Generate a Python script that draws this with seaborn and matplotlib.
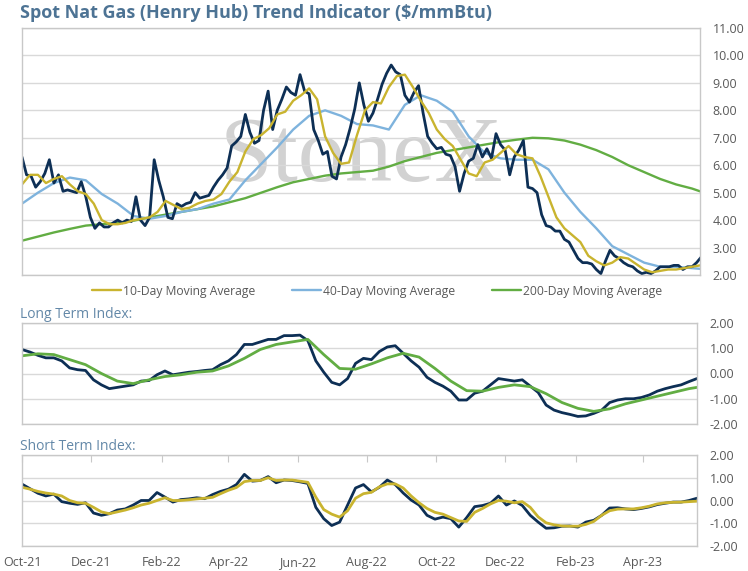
import pandas as pd
import matplotlib
matplotlib.use("Agg")
import matplotlib.pyplot as plt
import matplotlib.dates as mdates
from matplotlib.ticker import FormatStrFormatter
import seaborn as sns

# ---- data ----
price = [6.3, 5.65, 5.6, 5.2, 5.4, 5.7, 6.2, 5.35, 5.65, 5.05, 5.1, 5.05, 5.0, 5.4, 4.85, 4.1,
         3.7, 3.9, 3.75, 3.75, 3.9, 4.0, 3.9, 4.0, 3.95, 4.85, 4.0, 3.8, 4.1, 6.2, 5.45, 4.85,
         4.1, 4.05, 4.6, 4.5, 4.6, 4.65, 5.0, 4.8, 4.85, 4.9, 5.2, 5.45, 5.65, 5.9, 6.7, 6.85,
         7.05, 7.85, 7.2, 6.8, 6.9, 8.0, 8.7, 7.3, 8.0, 8.4, 8.85, 8.65, 8.55, 9.3, 8.7, 8.6,
         7.3, 6.9, 6.4, 6.5, 5.6, 5.5, 6.3, 6.75, 7.35, 8.05, 9.0, 8.2, 7.6, 7.9, 8.4, 8.95,
         9.35, 9.65, 9.4, 9.3, 8.55, 8.3, 8.65, 8.9, 7.9, 7.05, 6.8, 6.6, 6.65, 6.4, 6.35, 5.95,
         5.05, 5.7, 6.15, 6.25, 6.75, 6.3, 6.6, 6.25, 7.15, 6.75, 6.55, 5.65, 6.3, 6.55, 6.9, 5.2,
         5.15, 5.0, 4.2, 3.8, 3.75, 3.6, 3.6, 3.3, 3.2, 2.9, 2.6, 2.45, 2.45, 2.4, 2.2, 2.05,
         2.5, 2.9, 2.7, 2.6, 2.45, 2.35, 2.3, 2.15, 2.05, 2.1, 2.05, 2.15, 2.3, 2.3, 2.3, 2.35,
         2.35, 2.2, 2.3, 2.3, 2.45, 2.65]

ma10 = [5.3, 5.65, 5.65, 5.35, 5.5, 5.6, 5.3, 5.05, 4.95, 4.6, 4.0, 3.85, 3.85, 3.9, 4.0, 4.05,
        4.1, 4.3, 4.7, 4.55, 4.4, 4.45, 4.6, 4.7, 4.75, 4.95, 5.4, 5.75, 6.5, 6.95, 7.1, 7.35,
        7.85, 7.95, 8.35, 8.55, 8.8, 8.4, 7.05, 6.45, 6.05, 6.1, 7.1, 8.0, 8.3, 8.25, 8.85, 9.25,
        9.3, 8.85, 8.35, 7.9, 7.3, 6.95, 6.7, 6.2, 5.7, 5.6, 6.1, 6.2, 6.45, 6.7, 6.4, 6.3,
        6.25, 5.6, 4.85, 4.1, 3.7, 3.45, 3.2, 2.7, 2.5, 2.35, 2.45, 2.65, 2.6, 2.4, 2.2, 2.1,
        2.15, 2.2, 2.2, 2.25, 2.3, 2.35]

ma40 = [4.6, 5.0, 5.35, 5.55, 5.45, 4.95, 4.6, 4.15, 4.05, 4.15, 4.3, 4.4, 4.6, 4.75, 5.45,
        6.05, 6.65, 7.3, 7.8, 8.0, 7.8, 7.5, 7.45, 7.3, 8.2, 8.55, 8.35, 7.95, 7.05, 6.45, 6.25,
        6.2, 6.2, 5.85, 5.0, 4.3, 3.7, 3.05, 2.75, 2.45, 2.3, 2.3, 2.25, 2.2]

ma200 = [3.25, 3.4, 3.55, 3.68, 3.8, 3.85, 3.9, 3.98, 4.1, 4.2, 4.3, 4.4, 4.5, 4.65, 4.8,
         5.0, 5.2, 5.38, 5.5, 5.62, 5.7, 5.75, 5.8, 5.95, 6.15, 6.3, 6.45, 6.55, 6.65, 6.75,
         6.85, 6.93, 7.0, 6.98, 6.9, 6.75, 6.55, 6.3, 6.0, 5.75, 5.5, 5.3, 5.15, 4.95]

long_idx = [0.95, 0.85, 0.72, 0.62, 0.62, 0.5, 0.22, 0.15, 0.12, -0.25, -0.45, -0.6, -0.55,
            -0.5, -0.45, -0.3, -0.28, -0.05, 0.1, -0.05, 0.0, 0.05, 0.08, 0.12, 0.15, 0.35,
            0.5, 0.75, 1.15, 1.15, 1.25, 1.35, 1.35, 1.5, 1.5, 1.52, 1.3, 0.5, 0.05, -0.35,
            -0.45, -0.2, 0.4, 0.6, 0.55, 0.87, 1.05, 1.1, 0.8, 0.5, 0.25, -0.15, -0.35, -0.5,
            -0.7, -1.05, -1.05, -0.78, -0.7, -0.45, -0.2, -0.25, -0.3, -0.25, -0.5, -0.75,
            -1.25, -1.45, -1.55, -1.62, -1.7, -1.68, -1.58, -1.45, -1.15, -1.05, -1.0, -1.0,
            -0.95, -0.85, -0.7, -0.6, -0.52, -0.45, -0.32, -0.2]

long_sig = [0.7, 0.78, 0.75, 0.55, 0.35, 0.0, -0.3, -0.4, -0.25, -0.12, -0.05, 0.05, 0.1, 0.3,
            0.6, 0.95, 1.15, 1.25, 1.35, 0.75, 0.2, 0.17, 0.38, 0.62, 0.8, 0.65, 0.2, -0.3,
            -0.68, -0.7, -0.55, -0.45, -0.52, -0.8, -1.15, -1.38, -1.5, -1.4, -1.2, -1.05,
            -0.9, -0.75, -0.6, -0.5]

short_idx = [0.72, 0.52, 0.32, 0.2, 0.28, -0.05, -0.12, -0.17, -0.1, -0.55, -0.65, -0.58,
             -0.42, -0.37, -0.2, 0.0, 0.0, 0.35, 0.15, -0.07, 0.04, 0.07, 0.12, 0.08, 0.26,
             0.4, 0.5, 0.7, 1.15, 0.85, 0.88, 1.05, 0.78, 0.9, 0.88, 0.82, 0.75, -0.3, -0.8,
             -1.1, -0.95, -0.2, 0.55, 0.7, 0.38, 0.58, 0.9, 0.7, 0.33, 0.02, -0.2, -0.65,
             -0.82, -0.73, -0.8, -1.17, -0.75, -0.27, -0.22, -0.12, 0.2, -0.2, -0.02, -0.22,
             -0.65, -0.95, -1.22, -1.2, -1.13, -1.12, -1.17, -0.95, -0.87, -0.65, -0.33, -0.32,
             -0.37, -0.4, -0.35, -0.28, -0.18, -0.12, -0.07, -0.07, 0.0, 0.1]

short_sig = [0.58, 0.5, 0.4, 0.33, 0.28, 0.2, 0.0, -0.1, -0.12, -0.3, -0.5, -0.58, -0.5,
             -0.42, -0.32, -0.2, -0.12, 0.0, 0.12, 0.0, 0.0, 0.03, 0.07, 0.1, 0.14, 0.3, 0.45,
             0.57, 0.83, 0.88, 0.88, 1.0, 0.88, 0.9, 0.9, 0.85, 0.8, 0.15, -0.4, -0.6, -0.73,
             -0.45, 0.1, 0.3, 0.36, 0.6, 0.73, 0.73, 0.55, 0.2, -0.1, -0.35, -0.52, -0.6, -0.75,
             -0.9, -0.92, -0.52, -0.35, -0.15, 0.0, -0.03, -0.1, -0.05, -0.3, -0.72, -0.98,
             -1.07, -1.12, -1.13, -1.13, -1.05, -0.92, -0.65, -0.45, -0.38, -0.37, -0.37, -0.32,
             -0.25, -0.15, -0.1, -0.08, -0.07, -0.05, -0.03]

start = "2021-10-01"
price_dates = pd.date_range(start, periods=len(price), freq="4D")
weekly_dates = pd.date_range(start, periods=len(ma10), freq="7D")
biweekly_dates = pd.date_range(start, periods=len(ma40), freq="14D")
x_end = pd.Timestamp("2023-05-19")

NAVY = "#0d2f55"
GOLD = "#c9b42f"
BLUE = "#7eb3dd"
GREEN = "#62ad43"
GRID = "#d9d9d9"
TXT = "#595959"
HEAD = "#4d7394"

sns.set_style("white")
plt.rcParams["font.family"] = ["Open Sans", "DejaVu Sans"]

fig = plt.figure(figsize=(7.48, 5.71), dpi=100)
ax1 = fig.add_axes([22 / 748, 1 - 275 / 571, 678 / 748, 247 / 571])
ax2 = fig.add_axes([22 / 748, 1 - 424 / 571, 675 / 748, 101 / 571])
ax3 = fig.add_axes([22 / 748, 1 - 546 / 571, 675 / 748, 91 / 571])

# top panel: price and moving averages
sns.lineplot(x=biweekly_dates, y=ma200, ax=ax1, color=GREEN, linewidth=1.7, label="200-Day Moving Average")
sns.lineplot(x=biweekly_dates, y=ma40, ax=ax1, color=BLUE, linewidth=1.7, label="40-Day Moving Average")
sns.lineplot(x=price_dates, y=price, ax=ax1, color=NAVY, linewidth=2.0)
sns.lineplot(x=weekly_dates, y=ma10, ax=ax1, color=GOLD, linewidth=1.7, label="10-Day Moving Average")
ax1.set_ylim(2, 11)
ax1.set_yticks(range(2, 12))
ax1.text(0.5, 0.47, "StoneX", transform=ax1.transAxes, ha="center", va="center",
         fontsize=68, family="Liberation Serif", color="#d2d2d2", zorder=0)

# middle panel: long term index
sns.lineplot(x=weekly_dates, y=long_idx, ax=ax2, color=NAVY, linewidth=2.0)
sns.lineplot(x=biweekly_dates, y=long_sig, ax=ax2, color=GREEN, linewidth=2.0)
ax2.set_ylim(-2, 2)

# bottom panel: short term index
sns.lineplot(x=weekly_dates, y=short_idx, ax=ax3, color=NAVY, linewidth=2.0)
sns.lineplot(x=weekly_dates, y=short_sig, ax=ax3, color=GOLD, linewidth=2.0)
ax3.set_ylim(-2, 2)

for ax in (ax1, ax2, ax3):
    ax.set_xlim(pd.Timestamp(start), x_end)
    ax.set_xlabel("")
    ax.set_ylabel("")
    ax.set_axisbelow(True)
    ax.grid(axis="y", color=GRID, linewidth=1)
    ax.grid(axis="x", visible=False)
    ax.yaxis.tick_right()
    ax.yaxis.set_major_formatter(FormatStrFormatter("%.2f"))
    ax.tick_params(axis="y", length=0, labelsize=9, labelcolor=TXT, pad=9)
    ax.xaxis.set_major_locator(mdates.MonthLocator(bymonth=[2, 4, 6, 8, 10, 12]))
    ax.xaxis.set_major_formatter(mdates.DateFormatter("%b-%y"))
    for sp in ax.spines.values():
        sp.set_color("#c8c8c8")
        sp.set_linewidth(1)
    if ax.get_legend() is not None:
        ax.get_legend().remove()

ax2.set_yticks([-2, -1, 0, 1, 2])
ax3.set_yticks([-2, -1, 0, 1, 2])
ax1.tick_params(axis="x", bottom=False, labelbottom=False)
ax2.tick_params(axis="x", bottom=False, labelbottom=False)
ax3.tick_params(axis="x", bottom=False, top=True, direction="in", length=5, color="#c8c8c8",
                labelbottom=True, labelsize=9, labelcolor=TXT, pad=7)

# legend under the price panel
handles, labels = ax1.get_legend_handles_labels()
order = [labels.index(l) for l in ["10-Day Moving Average", "40-Day Moving Average", "200-Day Moving Average"]]
fig.legend([handles[i] for i in order], [labels[i] for i in order], loc="center",
           bbox_to_anchor=(377 / 748, 1 - 291 / 571), ncol=3, frameon=False, fontsize=8.7,
           handlelength=2.4, handletextpad=0.2, columnspacing=3.0, labelcolor=TXT)

fig.text(20 / 748, 1 - 13 / 571, "Spot Nat Gas (Henry Hub) Trend Indicator ($/mmBtu)",
         fontsize=13, fontweight="bold", color=HEAD, va="center", ha="left")
fig.text(20 / 748, 1 - 315 / 571, "Long Term Index:", fontsize=10, color="#6388a8", va="center")
fig.text(20 / 748, 1 - 446 / 571, "Short Term Index:", fontsize=10, color="#6388a8", va="center")

fig.savefig("out.png", dpi=100)
